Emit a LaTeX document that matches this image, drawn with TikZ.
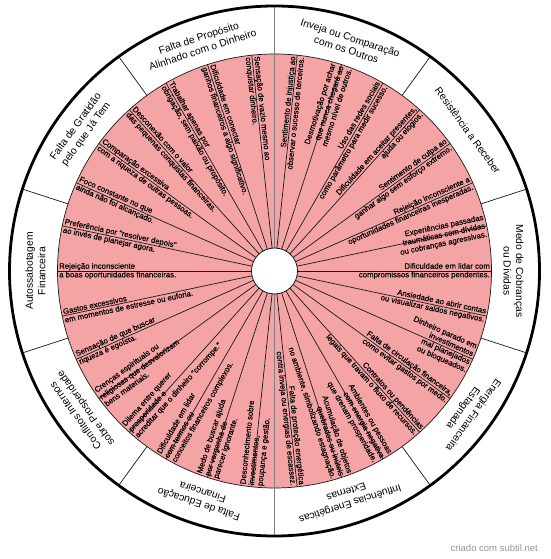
\documentclass[tikz,border=0pt]{standalone}
\usepackage{fontspec}
\setmainfont{Liberation Sans}
\newfontfamily\causeface[FakeBold=0.35]{Liberation Sans}
\usetikzlibrary{calc}

\definecolor{wheelpink}{RGB}{245,164,166}
\definecolor{marknote}{RGB}{150,150,150}

\tikzset{
    causeR/.style={anchor=east, align=right, inner sep=0.5pt, font=\causeface\fontsize{7.8}{8.6}\selectfont},
    causeL/.style={anchor=west, align=left, inner sep=0.5pt, font=\causeface\fontsize{7.8}{8.6}\selectfont},
    group/.style={align=center, inner sep=0pt, font=\fontsize{10.3}{12.6}\selectfont},
    spoke/.style={black!90, line width=0.7pt},
    axisline/.style={black!50, line width=1.3pt}
}

\begin{document}
\begin{tikzpicture}[x=1pt, y=1pt]
        \useasboundingbox (-274.5,-288) rectangle (275.5,271);
        % Wheel
        \fill[white] (0,0) coordinate (O) circle (265);
        \fill[wheelpink] (O) circle (217);
        \draw[spoke] (O) circle (217);

        % Spokes between the causes
        \foreach \a in {0,12,...,348}
            \draw[spoke] (\a:23) -- (\a:217);
        % Borders between the groups
        \foreach \a in {18,54,126,162,198,234,306,342}
            \draw[spoke] (\a:217) -- (\a:265);
        \draw[axisline] (90:23) -- (90:265);
        \draw[axisline] (-90:23) -- (-90:265);

        % Hub + rim
        \draw[fill=white, line width=0.7pt] (O) circle (23);
        \draw[line width=2.8pt] (O) circle (265);

        % Groups
        \node[group, rotate=-18] (g72) at (72:239) {Inveja ou Comparação\\com os Outros};
        \node[group, rotate=-54] (g36) at (36:239) {Resistência a Receber};
        \node[group, rotate=-90] (g0) at (0:239) {Medo de Cobranças\\ou Dívidas};
        \node[group, rotate=-126] (g-36) at (-36:239) {Energia Financeira\\Estagnada};
        \node[group, rotate=-162] (g-72) at (-72:239) {Influências Energéticas\\Externas};
        \node[group, rotate=-198] (g-108) at (-108:239) {Falta de Educação\\Financeira};
        \node[group, rotate=-234] (g-144) at (-144:239) {Conflitos Internos\\sobre Prosperidade};
        \node[group, rotate=90] (g180) at (180:239) {Autossabotagem\\Financeira};
        \node[group, rotate=54] (g144) at (144:239) {Falta de Gratidão\\pelo que Já Tem};
        \node[group, rotate=18] (g108) at (108:239) {Falta de Propósito\\Alinhado com o Dinheiro};

        % Causes, right half
        \node[causeR, rotate=84] (c84) at (84:216) {Sentimento de injustiça ao\\observar o sucesso de terceiros.};
        \node[causeR, rotate=72] (c72) at (72:216) {Desmotivação por achar\\que nunca chegará ao\\mesmo nível de outros.};
        \node[causeR, rotate=60] (c60) at (60:216) {Uso das redes sociais\\como parâmetro para medir sucesso.};
        \node[causeR, rotate=48] (c48) at (48:216) {Dificuldade em aceitar presentes,\\ajuda ou elogios.};
        \node[causeR, rotate=36] (c36) at (36:216) {Sentimento de culpa ao\\ganhar algo sem esforço extremo.};
        \node[causeR, rotate=24] (c24) at (24:216) {Rejeição inconsciente a\\oportunidades financeiras inesperadas.};
        \node[causeR, rotate=12] (c12) at (12:216) {Experiências passadas\\traumáticas com dívidas\\ou cobranças agressivas.};
        \node[causeR, rotate=0] (c0) at (0:216) {Dificuldade em lidar com\\compromissos financeiros pendentes.};
        \node[causeR, rotate=-12] (c-12) at (-12:216) {Ansiedade ao abrir contas\\ou visualizar saldos negativos.};
        \node[causeR, rotate=-24] (c-24) at (-24:216) {Dinheiro parado em\\investimentos\\mal planejados\\ou bloqueados.};
        \node[causeR, rotate=-36] (c-36) at (-36:216) {Falta de circulação financeira,\\como evitar gastos por medo.};
        \node[causeR, rotate=-48] (c-48) at (-48:216) {Contratos ou pendências\\legais que travam o fluxo de recursos.};
        \node[causeR, rotate=-60] (c-60) at (-60:216) {Ambientes ou pessoas\\com energia negativa\\que drenam prosperidade.};
        \node[causeR, rotate=-72] (c-72) at (-72:216) {Acumulação de objetos\\quebrados ou inúteis\\no ambiente, simbolizando estagnação.};
        \node[causeR, rotate=-84] (c-84) at (-84:216) {Falta de proteção energética\\contra inveja ou energias de escassez.};

        % Causes, left half
        \node[causeL, rotate=84] (c-96) at (-96:216) {Desconhecimento sobre\\investimentos,\\poupança e gestão.};
        \node[causeL, rotate=72] (c-108) at (-108:216) {Medo de buscar ajuda\\por vergonha de\\parecer ignorante.};
        \node[causeL, rotate=60] (c-120) at (-120:216) {Dificuldade em lidar\\com termos ou\\conceitos financeiros complexos.};
        \node[causeL, rotate=48] (c-132) at (-132:216) {Dilema entre querer\\prosperidade e\\acreditar que o dinheiro "corrompe."};
        \node[causeL, rotate=36] (c-144) at (-144:216) {Crenças espirituais ou\\religiosas que desvalorizam\\bens materiais.};
        \node[causeL, rotate=24] (c-156) at (-156:216) {Sensação de que buscar\\riqueza é egoísta.};
        \node[causeL, rotate=12] (c-168) at (-168:216) {Gastos excessivos\\em momentos de estresse ou euforia.};
        \node[causeL, rotate=0] (c180) at (180:216) {Rejeição inconsciente\\a boas oportunidades financeiras.};
        \node[causeL, rotate=-12] (c168) at (168:216) {Preferência por "resolver depois"\\ao invés de planejar agora.};
        \node[causeL, rotate=-24] (c156) at (156:216) {Foco constante no que\\ainda não foi alcançado.};
        \node[causeL, rotate=-36] (c144) at (144:216) {Comparação excessiva\\com a riqueza de outras pessoas.};
        \node[causeL, rotate=-48] (c132) at (132:216) {Desconexão com o valor\\das pequenas conquistas financeiras.};
        \node[causeL, rotate=-60] (c120) at (120:216) {Trabalhar apenas por\\obrigação, sem paixão ou propósito.};
        \node[causeL, rotate=-72] (c108) at (108:216) {Dificuldade em conectar\\ganhos financeiros a algo significativo.};
        \node[causeL, rotate=-84] (c96) at (96:216) {Sensação de vazio mesmo ao\\conquistar dinheiro.};

        % Watermark
        \node[anchor=east, text=marknote, inner sep=0pt, font=\fontsize{9.5}{11}\selectfont] (mark) at (263.5,-277) {criado com subtil.net};
    \end{tikzpicture}
\end{document}
